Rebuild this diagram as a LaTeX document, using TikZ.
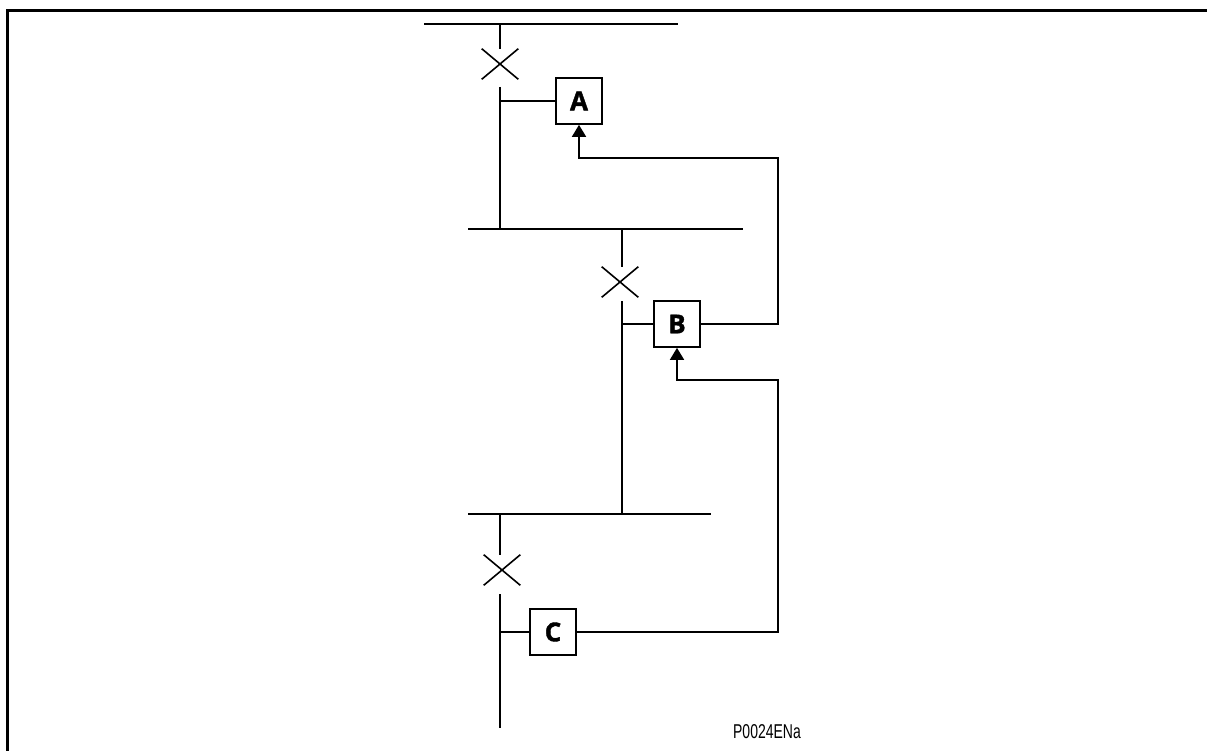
\documentclass[tikz,border=0pt]{standalone}
\usepackage{fontspec}
\setmainfont{Liberation Sans}
\newfontfamily\relayfont[FakeBold=1.5]{Open Sans}
\usetikzlibrary{arrows.meta,positioning,shapes.misc}

\begin{document}
\begin{tikzpicture}[
    x=1pt, y=-1pt,
    wire/.style={line width=1.7pt},
    relay/.style={
    draw,
    line width=1.7pt,
    minimum size=46pt,
    inner sep=0pt,
    font=\relayfont\bfseries\fontsize{26}{26}\selectfont},
    breaker/.style={
    cross out,
    draw,
    line width=1.6pt,
    minimum width=35pt,
    minimum height=29pt,
    inner sep=0pt},
    trip/.style={-{Triangle[width=14pt,length=12pt]},line width=1.7pt}
    ]
    \useasboundingbox (0,0) rectangle (1207,751);
    \draw[line width=3.5pt] (1207,10.5) -- (7.5,10.5) -- (7.5,751);

    % busbars
    \draw[wire] (424,24) -- (678,24);
    \draw[wire] (468,229) -- (743,229);
    \draw[wire] (468,514) -- (711,514);

    % breakers
    \node[breaker] (cbA) at (500,64) {};
    \node[breaker] (cbB) at (620,282) {};
    \node[breaker] (cbC) at (502,570) {};

    % relays
    \node[relay] (relA) at (579,101) {A};
    \node[relay] (relB) at (677,324) {B};
    \node[relay] (relC) at (553,632) {C};

    % feeders
    \draw[wire] (500,24) -- (cbA.north -| 500,0);
    \draw[wire] (500,87) -- (500,229);
    \draw[wire] (622,229) -- (cbB.north -| 622,0);
    \draw[wire] (622,301) -- (622,514);
    \draw[wire] (500,514) -- (cbC.north -| 500,0);
    \draw[wire] (500,594) -- (500,728);

    % relay connections
    \draw[wire] (500,101) -- (relA.west);
    \draw[wire] (622,324) -- (relB.west);
    \draw[wire] (500,632) -- (relC.west);

    % trip signals
    \draw[trip] (relB.east) -| (778,158) -| (relA.south);
    \draw[trip] (relC.east) -| (778,380) -| (relB.south);

    \node (tag) at (767,732) {\scalebox{0.7}[1]{\fontsize{20}{20}\selectfont P0024ENa}};
\end{tikzpicture}
\end{document}
